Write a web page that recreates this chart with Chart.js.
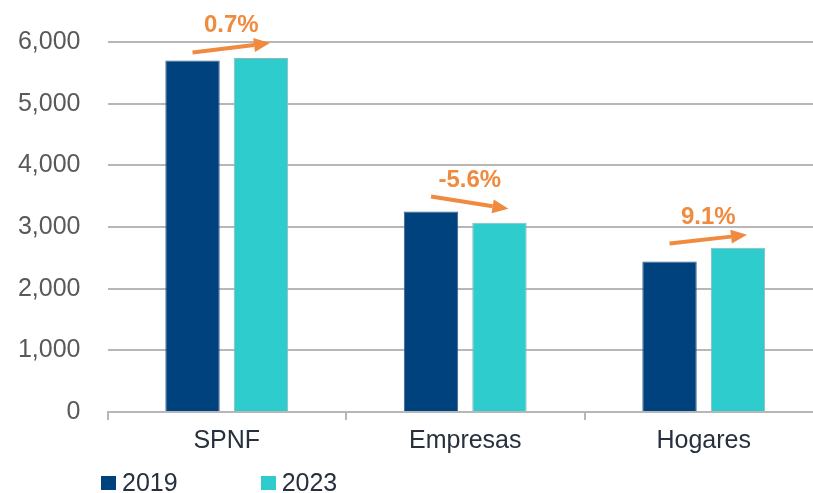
<!DOCTYPE html>
<html>
<head>
<meta charset="utf-8">
<script src="https://cdn.jsdelivr.net/npm/chart.js@4.4.0/dist/chart.umd.min.js"></script>
<style>
  html, body { margin: 0; padding: 0; background: #fff; overflow: hidden; }
  #wrap { position: absolute; left: 0; top: 0; width: 826px; height: 493px; }
  #legend { position: absolute; left: 101px; top: 468px; font-family: "Liberation Sans", Arial, sans-serif; font-size: 25px; color: #27303d; display: flex; }
  #legend .item { display: flex; align-items: center; margin-right: 83px; }
  #legend .box { width: 15px; height: 14px; margin-right: 6px; }
</style>
</head>
<body>
<div id="wrap"><canvas id="chart"></canvas></div>
<div id="legend"></div>
<script>
const categories = ['SPNF', 'Empresas', 'Hogares'];
const seriesNames = ['2019', '2023'];
const values2019 = [5700, 3250, 2440];
const values2023 = [5740, 3068, 2662];
const changeLabels = ['0.7%', '-5.6%', '9.1%'];
const yTicks = [0, 1000, 2000, 3000, 4000, 5000, 6000];

const colors = ['#00427e', '#2ecccc'];
const orange = '#f08a3e';
// how far above each bar top the arrow starts / ends
const arrowLift = [[8, 15], [15, 14], [18, 13]];

const arrowPlugin = {
  id: 'arrows',
  afterDatasetsDraw(chart) {
    const ctx = chart.ctx;
    const m0 = chart.getDatasetMeta(0);
    const m1 = chart.getDatasetMeta(1);
    categories.forEach((c, i) => {
      const b0 = m0.data[i], b1 = m1.data[i];
      const x0 = b0.x, y0 = b0.y - arrowLift[i][0];
      const x1 = b1.x + 9, y1 = b1.y - arrowLift[i][1];
      const ang = Math.atan2(y1 - y0, x1 - x0);
      const head = 16, half = 7;
      const bx = x1 - head * Math.cos(ang), by = y1 - head * Math.sin(ang);
      ctx.save();
      ctx.strokeStyle = orange;
      ctx.fillStyle = orange;
      ctx.lineWidth = 4;
      ctx.beginPath();
      ctx.moveTo(x0, y0);
      ctx.lineTo(bx, by);
      ctx.stroke();
      ctx.beginPath();
      ctx.moveTo(x1, y1);
      ctx.lineTo(bx + half * Math.sin(ang), by - half * Math.cos(ang));
      ctx.lineTo(bx - half * Math.sin(ang), by + half * Math.cos(ang));
      ctx.closePath();
      ctx.fill();
      ctx.font = 'bold 24px "Liberation Sans", Arial, sans-serif';
      ctx.textAlign = 'center';
      ctx.textBaseline = 'middle';
      ctx.fillText(changeLabels[i], (x0 + x1) / 2, (y0 + y1) / 2 - 22);
      ctx.restore();
    });
  }
};

const ctx = document.getElementById('chart').getContext('2d');
new Chart(ctx, {
  type: 'bar',
  data: {
    labels: categories,
    datasets: [
      { label: seriesNames[0], data: values2019, backgroundColor: colors[0], borderColor: '#3d5f86', borderWidth: 1 },
      { label: seriesNames[1], data: values2023, backgroundColor: colors[1], borderColor: '#8fb9b9', borderWidth: 1 }
    ]
  },
  options: {
    responsive: true,
    maintainAspectRatio: false,
    animation: false,
    categoryPercentage: 0.574,
    barPercentage: 0.795,
    layout: { padding: { left: 10, right: 3, top: 40, bottom: 31 } },
    plugins: {
      legend: { display: false },
      tooltip: { enabled: false }
    },
    scales: {
      x: {
        grid: { drawOnChartArea: false, drawTicks: true, tickLength: 8, color: '#b7b7b7', lineWidth: 2 },
        border: { display: true, color: '#b7b7b7', width: 2 },
        ticks: { color: '#27303d', padding: 6, font: { family: '"Liberation Sans", Arial, sans-serif', size: 25 } }
      },
      y: {
        min: 0,
        max: 6000,
        afterBuildTicks: (scale) => { scale.ticks = yTicks.map(v => ({ value: v })); },
        afterFit: (scale) => { scale.width = 97.5; },
        grid: { color: '#b7b7b7', lineWidth: 2, drawTicks: false },
        border: { display: false },
        ticks: {
          color: '#595959',
          padding: 27,
          font: { family: '"Liberation Sans", Arial, sans-serif', size: 25 },
          callback: (v) => v.toLocaleString('en-US')
        }
      }
    }
  },
  plugins: [arrowPlugin]
});

const legend = document.getElementById('legend');
seriesNames.forEach((name, i) => {
  const item = document.createElement('div');
  item.className = 'item';
  const box = document.createElement('span');
  box.className = 'box';
  box.style.background = colors[i];
  const txt = document.createElement('span');
  txt.textContent = name;
  item.appendChild(box);
  item.appendChild(txt);
  legend.appendChild(item);
});
</script>
</body>
</html>
